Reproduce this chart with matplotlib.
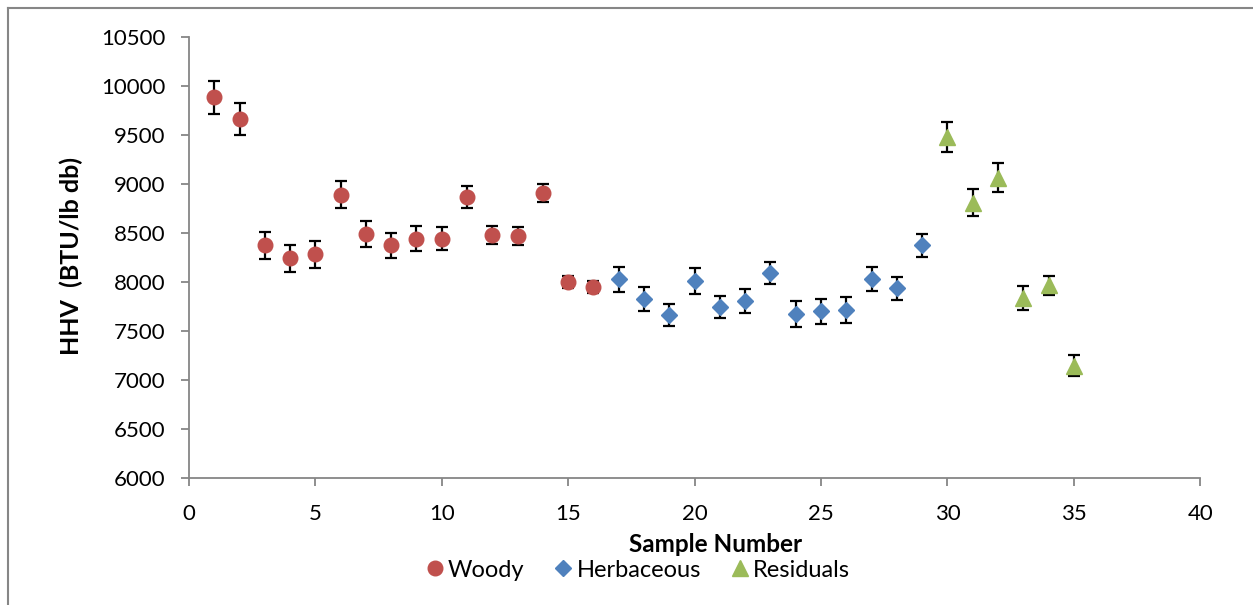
import matplotlib.pyplot as plt
from matplotlib.lines import Line2D

plt.rcParams['font.family'] = ['Lato', 'DejaVu Sans']

# sample numbers and HHV values (BTU/lb db) with error bars
woody_x = list(range(1, 17))
woody_y = [9887, 9659, 8373, 8241, 8282, 8891, 8490, 8373, 8444, 8444,
           8866, 8480, 8470, 8907, 8003, 7952]
woody_err = [168, 163, 137, 139, 137, 137, 132, 129, 127, 117,
             112, 91, 91, 91, 60, 60]

herb_x = list(range(17, 30))
herb_y = [8027, 7829, 7662, 8012, 7743, 7809, 8093, 7677, 7702, 7712,
          8033, 7936, 8373]
herb_err = [127, 122, 115, 130, 115, 122, 112, 132, 127, 132, 122, 117, 117]

resid_x = list(range(30, 36))
resid_y = [9476, 8810, 9064, 7839, 7966, 7148]
resid_err = [152, 137, 147, 122, 97, 112]

red = '#C0504D'
blue = '#4F81BD'
green = '#9BBB59'

fig = plt.figure(figsize=(12.53, 6.05), dpi=100)
ax = fig.add_axes([0.1508, 0.2099, 0.8071, 0.7289])

err_kw = dict(ecolor='black', elinewidth=1.6, capsize=4.3, capthick=1.6,
              linestyle='none', zorder=3)
ax.errorbar(woody_x, woody_y, yerr=woody_err, marker='o', ms=10.5,
            color=red, mec=red, **err_kw)
ax.errorbar(herb_x, herb_y, yerr=herb_err, marker='D', ms=8,
            color=blue, mec=blue, **err_kw)
ax.errorbar(resid_x, resid_y, yerr=resid_err, marker='^', ms=11,
            color=green, mec=green, **err_kw)

ax.set_xlim(0, 40)
ax.set_ylim(6000, 10500)
ax.set_xticks(range(0, 41, 5))
ax.set_yticks(range(6000, 10501, 500))

for s in ['top', 'right']:
    ax.spines[s].set_visible(False)
for s in ['left', 'bottom']:
    ax.spines[s].set_color('#868686')
    ax.spines[s].set_linewidth(1.3)
ax.tick_params(direction='out', length=5.8, width=1.3, color='#868686',
               labelsize=16, labelcolor='black')
ax.tick_params(axis='y', pad=11)
ax.tick_params(axis='x', pad=13)

ax.set_xlabel('Sample Number', fontsize=17.5, fontweight='bold')
ax.xaxis.set_label_coords(0.521, -0.125)
ax.set_ylabel('HHV  (BTU/lb db)', fontsize=18, fontweight='bold')
ax.yaxis.set_label_coords(-0.105, 0.503)

handles = [
    Line2D([], [], marker='o', ls='none', color=red, ms=10.5),
    Line2D([], [], marker='D', ls='none', color=blue, ms=8),
    Line2D([], [], marker='^', ls='none', color=green, ms=11),
]
fig.legend(handles, ['Woody', 'Herbaceous', 'Residuals'], loc='center',
           bbox_to_anchor=(0.508, 0.0575), ncol=3, frameon=False,
           fontsize=17, handletextpad=0.05, columnspacing=1.15,
           handlelength=1.0)

# outer chart border (top and left visible)
fig.add_artist(Line2D([0.0064, 1.0], [0.987, 0.987], color='#868686', lw=1.5))
fig.add_artist(Line2D([0.0064, 0.0064], [0.0, 0.987], color='#868686', lw=1.5))

fig.savefig('out.png', dpi=100)
